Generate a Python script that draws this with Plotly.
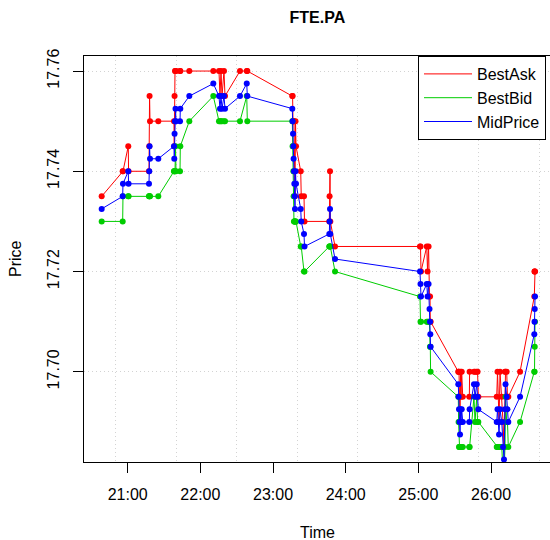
import plotly.graph_objects as go

# time in minutes (mm.fraction)
time_min = [20.642, 20.931, 20.935, 21.008, 21.012, 21.293, 21.297, 21.301, 21.307, 21.421,
            21.637, 21.641, 21.645, 21.651, 21.658, 21.665, 21.720, 21.724, 21.848, 22.178,
            22.256, 22.270, 22.284, 22.298, 22.325, 22.339, 22.545, 22.638, 22.646, 23.265,
            23.269, 23.275, 23.279, 23.283, 23.288, 23.293, 23.297, 23.302, 23.309, 23.316,
            23.381, 23.388, 23.426, 23.433, 23.774, 23.778, 23.784, 23.788, 23.853, 25.022,
            25.029, 25.036, 25.115, 25.126, 25.140, 25.153, 25.160, 25.164, 25.168, 25.549,
            25.553, 25.559, 25.566, 25.573, 25.580, 25.587, 25.596, 25.610, 25.701, 25.705,
            25.765, 25.779, 25.803, 25.814, 25.825, 26.078, 26.089, 26.110, 26.123, 26.147,
            26.165, 26.178, 26.192, 26.199, 26.215, 26.226, 26.237, 26.399, 26.595, 26.598,
            26.601, 26.605]

best_ask = [17.735, 17.740, 17.740, 17.745, 17.740, 17.740, 17.745, 17.755, 17.750, 17.750,
            17.750, 17.745, 17.755, 17.760, 17.760, 17.760, 17.760, 17.760, 17.760, 17.760,
            17.760, 17.755, 17.760, 17.755, 17.760, 17.755, 17.760, 17.760, 17.760, 17.755,
            17.755, 17.750, 17.750, 17.750, 17.750, 17.745, 17.740, 17.735, 17.750, 17.745,
            17.740, 17.735, 17.735, 17.730, 17.730, 17.735, 17.740, 17.730, 17.725, 17.725,
            17.725, 17.720, 17.725, 17.720, 17.725, 17.715, 17.715, 17.710, 17.710, 17.700,
            17.700, 17.700, 17.695, 17.690, 17.700, 17.695, 17.700, 17.695, 17.695, 17.700,
            17.700, 17.700, 17.700, 17.700, 17.695, 17.695, 17.700, 17.690, 17.700, 17.695,
            17.690, 17.685, 17.700, 17.700, 17.700, 17.695, 17.695, 17.700, 17.715, 17.720,
            17.720, 17.720]

best_bid = [17.730, 17.730, 17.735, 17.735, 17.735, 17.735, 17.735, 17.735, 17.735, 17.735,
            17.740, 17.740, 17.740, 17.740, 17.745, 17.740, 17.740, 17.745, 17.750, 17.755,
            17.750, 17.750, 17.750, 17.750, 17.750, 17.750, 17.750, 17.755, 17.750, 17.750,
            17.745, 17.745, 17.740, 17.735, 17.730, 17.730, 17.730, 17.730, 17.730, 17.730,
            17.725, 17.725, 17.720, 17.720, 17.725, 17.725, 17.725, 17.725, 17.720, 17.715,
            17.710, 17.710, 17.710, 17.710, 17.710, 17.710, 17.705, 17.705, 17.700, 17.695,
            17.690, 17.685, 17.685, 17.685, 17.685, 17.685, 17.685, 17.685, 17.685, 17.685,
            17.695, 17.690, 17.695, 17.690, 17.690, 17.685, 17.685, 17.685, 17.685, 17.685,
            17.680, 17.680, 17.685, 17.695, 17.690, 17.690, 17.685, 17.690, 17.700, 17.700,
            17.705, 17.710]

mid_price = [17.7325, 17.7350, 17.7375, 17.7400, 17.7375, 17.7375, 17.7400, 17.7450, 17.7425, 17.7425,
             17.7450, 17.7425, 17.7475, 17.7500, 17.7525, 17.7500, 17.7500, 17.7525, 17.7550, 17.7575,
             17.7550, 17.7525, 17.7550, 17.7525, 17.7550, 17.7525, 17.7550, 17.7575, 17.7550, 17.7525,
             17.7500, 17.7475, 17.7450, 17.7425, 17.7400, 17.7375, 17.7350, 17.7325, 17.7400, 17.7375,
             17.7325, 17.7300, 17.7275, 17.7250, 17.7275, 17.7300, 17.7325, 17.7275, 17.7225, 17.7200,
             17.7175, 17.7150, 17.7175, 17.7150, 17.7175, 17.7125, 17.7100, 17.7075, 17.7050, 17.6975,
             17.6950, 17.6925, 17.6900, 17.6875, 17.6925, 17.6900, 17.6925, 17.6900, 17.6900, 17.6925,
             17.6975, 17.6950, 17.6975, 17.6950, 17.6925, 17.6900, 17.6925, 17.6875, 17.6925, 17.6900,
             17.6850, 17.6825, 17.6925, 17.6975, 17.6950, 17.6925, 17.6900, 17.6950, 17.7075, 17.7100,
             17.7125, 17.7150]

x_tick_vals = [21, 22, 23, 24, 25, 26]
x_tick_text = ["21:00", "22:00", "23:00", "24:00", "25:00", "26:00"]
y_tick_vals = [17.70, 17.72, 17.74, 17.76]

series = [("BestAsk", best_ask, "#FF0000"),
          ("BestBid", best_bid, "#00CD00"),
          ("MidPrice", mid_price, "#0000FF")]

FONT = "Liberation Sans, Arial, Helvetica, sans-serif"
GRID = "#D3D3D3"
DOT = "1px,3px"

fig = go.Figure()
for name, vals, col in series:
    fig.add_trace(go.Scatter(x=time_min, y=vals, mode="lines+markers", name=name,
                             line=dict(color=col, width=1),
                             marker=dict(color=col, size=6),
                             showlegend=False, cliponaxis=True))
for name, vals, col in series:
    fig.add_trace(go.Scatter(x=[None], y=[None], mode="lines", name=name,
                             line=dict(color=col, width=1), showlegend=True))
fig.add_trace(go.Scatter(x=[None], y=[None], xaxis="x2", showlegend=False,
                         hoverinfo="skip"))

xr = [20.3987, 26.811]
yr = [17.682, 17.763]

fig.update_layout(
    width=550, height=540,
    margin=dict(l=84, r=0, t=56, b=78),
    paper_bgcolor="white", plot_bgcolor="white",
    font=dict(family=FONT, size=16, color="black"),
    title=dict(text="<b>FTE.PA</b>", x=0.577, xanchor="center", y=1 - 17 / 540,
               yanchor="middle", yref="container", font=dict(size=16)),
    xaxis=dict(range=xr, tickvals=x_tick_vals, ticktext=x_tick_text,
               showgrid=False, zeroline=False, ticks="outside", ticklen=10,
               tickcolor="black", showline=True, mirror=True, linecolor="black",
               linewidth=1, ticklabelstandoff=8),
    xaxis2=dict(range=xr, overlaying="x", tick0=20 + 50 / 60, dtick=50 / 60,
                showgrid=True, gridcolor=GRID, griddash=DOT, gridwidth=1,
                showticklabels=False, ticks="", zeroline=False, showline=False),
    yaxis=dict(range=yr, tickvals=y_tick_vals, tickformat=".2f", tickangle=-90,
               showgrid=True, gridcolor=GRID, griddash=DOT, gridwidth=1,
               zeroline=False, ticks="outside", ticklen=10, tickcolor="black",
               showline=True, mirror=True, linecolor="black", linewidth=1,
               ticklabelstandoff=8),
    legend=dict(x=(418 - 84) / 466, y=1, xanchor="left", yanchor="top", bgcolor="white",
                bordercolor="black", borderwidth=1, font=dict(size=16),
                tracegroupgap=0, itemwidth=48),
    annotations=[
        dict(text="Time", x=0.5, y=-(533 - 462.3) / 406.6, xref="paper", yref="paper",
             showarrow=False, xanchor="center", yanchor="middle", font=dict(size=16)),
        dict(text="Price", x=(15 - 84) / 466, y=0.5, xref="paper", yref="paper",
             showarrow=False, xanchor="center", yanchor="middle", textangle=-90,
             font=dict(size=16)),
    ],
)

fig.write_html("out.html", config={"displayModeBar": False},
               post_script="document.body.style.margin='0px';")
